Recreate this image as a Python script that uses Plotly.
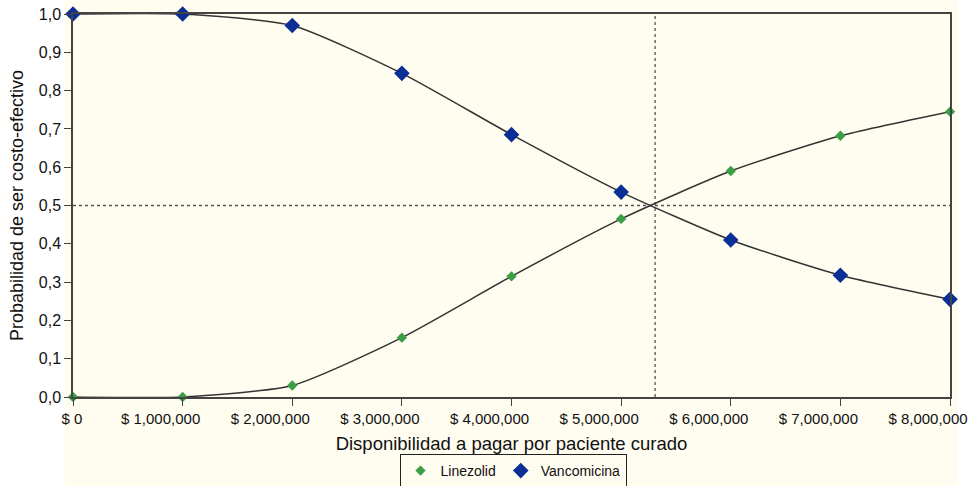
import plotly.graph_objects as go

x_vals = [0, 1000000, 2000000, 3000000, 4000000, 5000000, 6000000, 7000000, 8000000]
linezolid = [0.0, 0.0, 0.03, 0.155, 0.315, 0.465, 0.59, 0.682, 0.745]
vancomicina = [1.0, 1.0, 0.97, 0.845, 0.685, 0.535, 0.41, 0.318, 0.255]
x_ticklabels = ["$ 0", "$ 1,000,000", "$ 2,000,000", "$ 3,000,000", "$ 4,000,000",
                "$ 5,000,000", "$ 6,000,000", "$ 7,000,000", "$ 8,000,000"]
y_tickvals = [0.0, 0.1, 0.2, 0.3, 0.4, 0.5, 0.6, 0.7, 0.8, 0.9, 1.0]
y_ticklabels = ["0,0", "0,1", "0,2", "0,3", "0,4", "0,5", "0,6", "0,7", "0,8", "0,9", "1,0"]
threshold_x = 5310000
threshold_y = 0.5

cream = "#fffcf0"
green = "#3a9f45"
navy = "#0b2f94"

# original chart draws the non-zero labels left of their ticks; the "$ 0" label stays centred
nb = "\u00a0"
x_ticktext = [(nb * 10 + t) if i == 0 else t for i, t in enumerate(x_ticklabels)]

fig = go.Figure()

line_style = dict(color="#333333", width=1.5, shape="spline", smoothing=0.6)
fig.add_trace(go.Scatter(x=x_vals, y=linezolid, mode="lines", line=line_style, showlegend=False))
fig.add_trace(go.Scatter(x=x_vals, y=vancomicina, mode="lines", line=line_style, showlegend=False))
fig.add_trace(go.Scatter(x=x_vals, y=linezolid, name="Linezolid", mode="markers",
                         marker=dict(symbol="diamond", size=8, color=green)))
fig.add_trace(go.Scatter(x=x_vals, y=vancomicina, name="Vancomicina", mode="markers",
                         marker=dict(symbol="diamond", size=12, color=navy)))

# cream background band
fig.add_shape(type="rect", xref="paper", yref="paper",
              x0=-8/877, x1=(958-73)/877, y0=-89/383, y1=1 + 14/383,
              fillcolor=cream, line=dict(width=0), layer="below")
# dotted reference lines
fig.add_shape(type="line", xref="x", yref="y", x0=0, x1=8000000, y0=threshold_y, y1=threshold_y,
              line=dict(color="#555555", width=1.3, dash="dot"), layer="below")
fig.add_shape(type="line", xref="x", yref="y", x0=threshold_x, x1=threshold_x, y0=0, y1=1,
              line=dict(color="#555555", width=1.3, dash="dot"), layer="below")

fig.update_layout(
    width=968, height=486,
    margin=dict(l=73, r=18, t=14, b=89, autoexpand=False),
    paper_bgcolor="white", plot_bgcolor=cream,
    font=dict(family="Liberation Sans, Arial, sans-serif", size=16, color="#111111"),
    showlegend=True,
    legend=dict(orientation="h", x=513/968, xanchor="center", xref="container",
                y=1 - 454/486, yanchor="top", yref="container",
                bordercolor="#222222", borderwidth=1, bgcolor=cream,
                font=dict(size=14), itemwidth=30, tracegroupgap=0),
    xaxis=dict(range=[0, 8000000], tickvals=x_vals, ticktext=x_ticktext, automargin=False,
               ticklabeloverflow="allow", tickfont=dict(size=15), ticklabelshift=-22,
               showgrid=False, zeroline=False, showline=True, linecolor="#444444", linewidth=1.5,
               mirror=True, ticks="outside", ticklen=7, tickcolor="#444444",
               title=dict(text="Disponibilidad a pagar por paciente curado", standoff=14,
                          font=dict(size=18.5))),
    yaxis=dict(range=[0, 1], tickvals=y_tickvals, ticktext=y_ticklabels, automargin=False,
               tickfont=dict(size=16),
               showgrid=False, zeroline=False, showline=True, linecolor="#444444", linewidth=1.5,
               mirror=True, ticks="outside", ticklen=7, tickcolor="#444444",
               title=dict(text="Probabilidad de ser costo-efectivo", standoff=10,
                          font=dict(size=18))),
)
fig.update_traces(cliponaxis=False)

fig.write_html("out.html", config={"displayModeBar": False},
               post_script="document.body.style.margin='0';document.body.style.overflow='hidden';")
